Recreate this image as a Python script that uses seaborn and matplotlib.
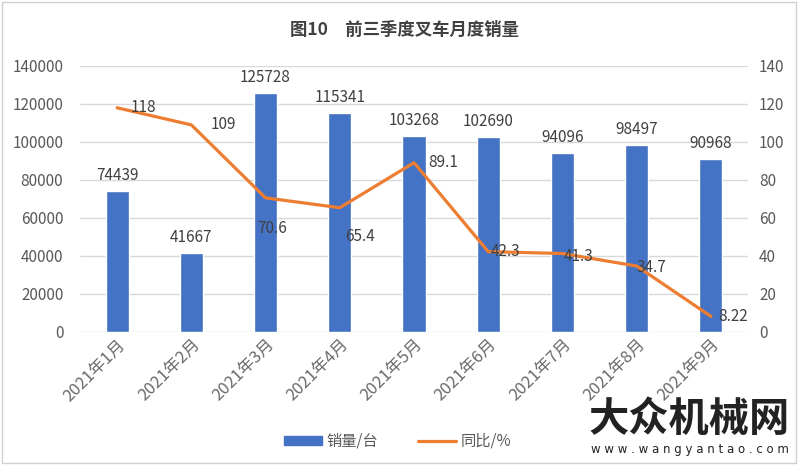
import matplotlib
matplotlib.use("Agg")
import matplotlib.pyplot as plt
import seaborn as sns
import numpy as np
import pandas as pd
from matplotlib.patches import Rectangle
from matplotlib.lines import Line2D

months = ["2021年1月", "2021年2月", "2021年3月", "2021年4月", "2021年5月",
          "2021年6月", "2021年7月", "2021年8月", "2021年9月"]
sales = [74439, 41667, 125728, 115341, 103268, 102690, 94096, 98497, 90968]
yoy = [118, 109, 70.6, 65.4, 89.1, 42.3, 41.3, 34.7, 8.22]
yoy_text = ["118", "109", "70.6", "65.4", "89.1", "42.3", "41.3", "34.7", "8.22"]

title = "图10　前三季度叉车月度销量"
legend_labels = ["销量/台", "同比/%"]

sns.set_theme(style="white")
plt.rcParams['font.family'] = ['Noto Sans CJK SC', 'DejaVu Sans']

BAR = "#4472C4"
LINE = "#ED7D31"
TXT = "#595959"

fig = plt.figure(figsize=(8, 4.66), dpi=100)
ax = fig.add_axes([0.1, 0.2876, 0.835, 0.5708])

df = pd.DataFrame({"month": months, "sales": sales, "yoy": yoy})
sns.barplot(data=df, x="month", y="sales", color=BAR, width=0.31,
            saturation=1, ax=ax)
ax.set_ylim(0, 140000)
ax.set_yticks(np.arange(0, 140001, 20000))
ax.set_xlim(-0.5, len(months) - 0.5)
ax.yaxis.grid(True, color="#D9D9D9", linewidth=1)
ax.set_axisbelow(True)
for s in ax.spines.values():
    s.set_visible(False)
ax.set_xlabel("")
ax.set_ylabel("")
ax.tick_params(axis="y", length=0, labelsize=11, labelcolor=TXT, pad=12)
ax.tick_params(axis="x", length=0, labelsize=12, labelcolor="#6a6a6a", pad=3)
ax.set_xticks(range(len(months)))
ax.set_xticklabels(months, rotation=45, ha="right", rotation_mode="anchor")

for i, v in enumerate(sales):
    ax.annotate(f"{v}", (i, v), xytext=(0, 5), textcoords="offset points",
                ha="center", va="bottom", fontsize=11, color="#404040")

ax2 = ax.twinx()
sns.lineplot(x=np.arange(len(yoy)), y=yoy, color=LINE, linewidth=2.3, ax=ax2)
ax2.set_ylim(0, 140)
ax2.set_yticks(np.arange(0, 141, 20))
for s in ax2.spines.values():
    s.set_visible(False)
ax2.tick_params(axis="y", length=0, labelsize=11, labelcolor=TXT, pad=8)
ax2.set_ylabel("")

offsets = [(10, 0), (14, 0), (-6, -22), (4, -21), (10, 0), (2, 0), (1, -2), (0, -1), (5, 0)]
for i, (v, t) in enumerate(zip(yoy, yoy_text)):
    ax2.annotate(t, (i, v), xytext=offsets[i], textcoords="offset points",
                 ha="left", va="center", fontsize=11, color="#404040")

fig.text(0.506, 0.935, title, ha="center", va="center", fontsize=12.5,
         fontweight="bold", color="#404040")

handles = [Rectangle((0, 0), 1, 1, color=BAR), Line2D([0], [0], color=LINE, lw=2.3)]
fig.legend(handles, legend_labels, loc="center", bbox_to_anchor=(0.497, 0.053),
           ncol=2, frameon=False, fontsize=11, labelcolor=TXT,
           handlelength=2.5, handleheight=0.5, columnspacing=2.6, handletextpad=0.3)

# watermark
fig.text(0.862, 0.1, "大众机械网", ha="center", va="center", fontsize=29,
         fontweight="bold", color="#222222")
fig.text(0.862, 0.022, "w w w . w a n g y a n t a o . c o m", ha="center",
         va="bottom", fontsize=8.5, color="#222222", family=["DejaVu Sans"])

fig.patches.append(Rectangle((0.002, 0.006), 0.993, 0.99, transform=fig.transFigure,
                             fill=False, edgecolor="#D0D0D0", linewidth=1))

fig.savefig("out.png", dpi=100)
